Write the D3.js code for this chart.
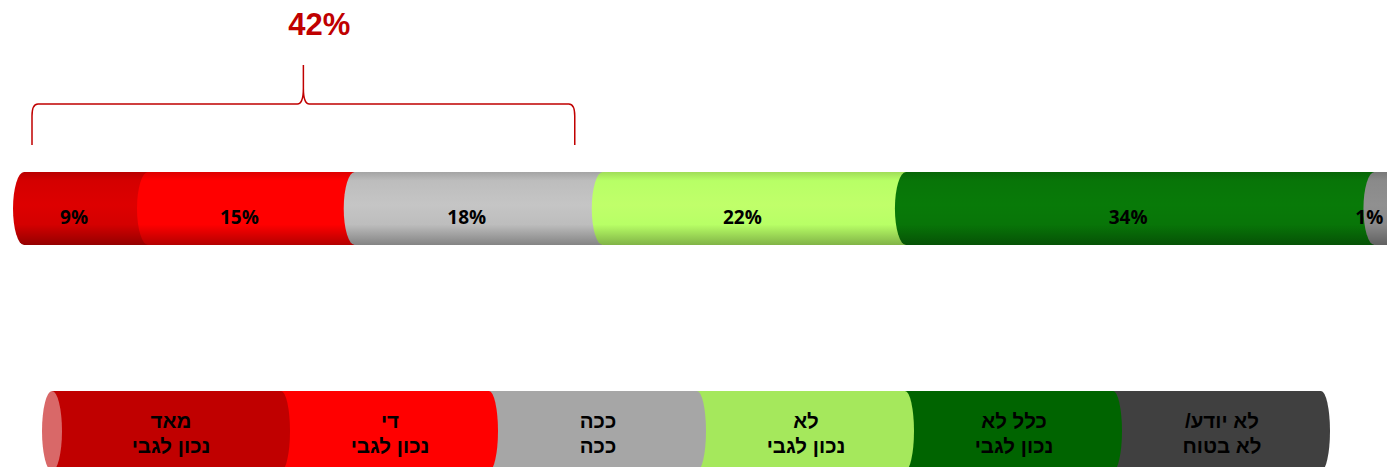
<!DOCTYPE html>
<html>
<head>
<meta charset="utf-8">
<script src="https://cdn.jsdelivr.net/npm/d3@7"></script>
<style>
  body { margin: 0; background: #fff; }
  svg { display: block; }
</style>
</head>
<body>
<svg id="chart"></svg>
<script>
// data
let values = [9, 15, 18, 22, 34, 1]
let barColors = ["#d40000", "#ff0000", "#bdbdbd", "#b8ff66", "#087508", "#8a8a8a"]
let legendLines = [
    ["מאד", "נכון לגבי"],
    ["די", "נכון לגבי"],
    ["ככה", "ככה"],
    ["לא", "נכון לגבי"],
    ["כלל לא", "נכון לגבי"],
    ["לא יודע/\u200F", "לא בטוח"]
]
let legendColors = ["#c00000", "#ff0000", "#a6a6a6", "#a5e85c", "#006400", "#404040"]
let braceValue = 42

let width = 1387
let height = 467

let svg = d3.select("#chart")
    .attr("width", width)
    .attr("height", height)

let xScale = d3.scaleLinear().domain([0, 100]).range([24, 1402])
let bar = {top: 172, bottom: 245, rx: 11}

// stacked starts
let starts = []
let acc = 0
values.forEach(v => { starts.push(acc); acc += v })

// gradients for the cylinder look
let defs = svg.append("defs")
barColors.forEach((c, i) => {
    let g = defs.append("linearGradient")
        .attr("id", "grad" + i)
        .attr("x1", 0).attr("y1", 0).attr("x2", 0).attr("y2", 1)
    let base = d3.color(c)
    let stops = [
        [0, base.darker(0.4)],
        [0.12, base],
        [0.45, base.brighter(0.12)],
        [0.72, base],
        [1, base.darker(1)]
    ]
    stops.forEach(s => {
        g.append("stop").attr("offset", s[0]).attr("stop-color", s[1].formatHex())
    })
})

let ry = (bar.bottom - bar.top) / 2

svg.append("g").attr("id", "bar")
    .selectAll("path")
    .data(values)
    .join("path")
    .attr("d", function(d, i) {
        let x0 = xScale(starts[i])
        let x1 = xScale(starts[i] + d)
        let p = "M" + x1 + "," + bar.top + " L" + x0 + "," + bar.top
            + " A" + bar.rx + "," + ry + " 0 0 0 " + x0 + "," + bar.bottom
            + " L" + x1 + "," + bar.bottom
        if (i == values.length - 1) {
            p += " A" + bar.rx + "," + ry + " 0 0 0 " + x1 + "," + bar.top
        }
        return p + " Z"
    })
    .attr("fill", (d, i) => "url(#grad" + i + ")")

svg.select("#bar")
    .selectAll("text")
    .data(values)
    .join("text")
    .text(d => d + "%")
    .attr("x", (d, i) => xScale(starts[i] + d / 2) - bar.rx - 1)
    .attr("y", 224)
    .attr("text-anchor", "middle")
    .attr("font-family", "'Open Sans', 'Liberation Sans', sans-serif")
    .attr("font-weight", "bold")
    .attr("font-size", 19)
    .attr("fill", "#000")

// brace over the first three segments
let bx0 = xScale(0) - bar.rx + 19
let bx1 = xScale(braceValue) - bar.rx - 17
let bm = (bx0 + bx1) / 2
let braceY = 104
let brace = "M" + bx0 + ",145 L" + bx0 + "," + (braceY + 12)
    + " Q" + bx0 + "," + braceY + " " + (bx0 + 6) + "," + braceY
    + " L" + (bm - 6) + "," + braceY
    + " Q" + bm + "," + braceY + " " + bm + "," + (braceY - 16)
    + " L" + bm + ",65"
    + " M" + bm + "," + (braceY - 16)
    + " Q" + bm + "," + braceY + " " + (bm + 6) + "," + braceY
    + " L" + (bx1 - 6) + "," + braceY
    + " Q" + bx1 + "," + braceY + " " + bx1 + "," + (braceY + 12)
    + " L" + bx1 + ",145"

svg.append("path")
    .attr("d", brace)
    .attr("fill", "none")
    .attr("stroke", "#c00000")
    .attr("stroke-width", 1.5)

svg.append("text")
    .text(braceValue + "%")
    .attr("x", bm + 16)
    .attr("y", 35)
    .attr("text-anchor", "middle")
    .attr("font-family", "'Liberation Sans', Arial, sans-serif")
    .attr("font-weight", "bold")
    .attr("font-size", 31)
    .attr("fill", "#c00000")

// legend cylinder
let legScale = d3.scaleLinear().domain([0, legendColors.length]).range([82, 1330])
let leg = {top: 391, bottom: 471, rx: 9, start: 52}
let lry = (leg.bottom - leg.top) / 2
let legX0 = i => i == 0 ? leg.start : legScale(i) - leg.rx
let legX1 = i => legScale(i + 1) - leg.rx
let legTextX = i => i == 0 ? (leg.start + legScale(1)) / 2 : (legScale(i) + legScale(i + 1)) / 2 - 4

let legend = svg.append("g").attr("id", "legend")
let order = d3.range(legendColors.length).reverse()

legend.selectAll("path.seg")
    .data(order)
    .join("path")
    .attr("class", "seg")
    .attr("d", function(i) {
        let x0 = legX0(i)
        let x1 = legX1(i)
        return "M" + x0 + "," + leg.top + " L" + x1 + "," + leg.top
            + " A" + leg.rx + "," + lry + " 0 0 1 " + x1 + "," + leg.bottom
            + " L" + x0 + "," + leg.bottom + " Z"
    })
    .attr("fill", i => legendColors[i])

legend.append("ellipse")
    .attr("cx", leg.start)
    .attr("cy", (leg.top + leg.bottom) / 2)
    .attr("rx", 10)
    .attr("ry", lry)
    .attr("fill", "#d96868")

legend.selectAll("text")
    .data(legendLines)
    .join("text")
    .attr("x", (d, i) => legTextX(i))
    .attr("y", 428)
    .attr("text-anchor", "middle")
    .attr("font-family", "'Liberation Sans', Arial, sans-serif")
    .attr("font-weight", "bold")
    .attr("font-size", 20.5)
    .attr("fill", "#000")
    .selectAll("tspan")
    .data(d => d)
    .join("tspan")
    .attr("x", function() { return d3.select(this.parentNode).attr("x") })
    .attr("dy", (d, j) => j == 0 ? 0 : 25)
    .text(d => d)
</script>
</body>
</html>
